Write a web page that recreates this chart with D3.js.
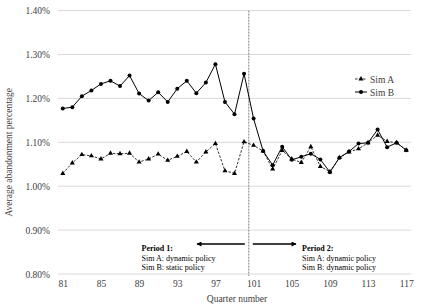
<!DOCTYPE html>
<html>
<head>
<meta charset="utf-8">
<script src="https://cdn.jsdelivr.net/npm/d3@7"></script>
<style>
  body { margin: 0; background: #fff; }
  svg { display: block; font-family: "Liberation Serif", "Times New Roman", serif; }
</style>
</head>
<body>
<div id="chart"></div>
<script>
// Data
const quarters = [81, 82, 83, 84, 85, 86, 87, 88, 89, 90, 91, 92, 93, 94, 95, 96, 97, 98, 99,
  100, 101, 102, 103, 104, 105, 106, 107, 108, 109, 110, 111, 112, 113, 114, 115, 116, 117];
const simA = [1.029, 1.053, 1.072, 1.069, 1.062, 1.075, 1.074, 1.075, 1.055, 1.062,
  1.073, 1.059, 1.068, 1.079, 1.055, 1.078, 1.097, 1.035, 1.029, 1.101,
  1.093, 1.080, 1.039, 1.081, 1.062, 1.054, 1.090, 1.045, 1.033, 1.065,
  1.078, 1.085, 1.099, 1.116, 1.102, 1.099, 1.082];
const simB = [1.177, 1.180, 1.205, 1.218, 1.233, 1.240, 1.228, 1.252, 1.211, 1.195,
  1.214, 1.192, 1.222, 1.240, 1.212, 1.236, 1.278, 1.192, 1.164, 1.256,
  1.154, 1.080, 1.048, 1.090, 1.060, 1.067, 1.074, 1.061, 1.032, 1.065,
  1.079, 1.097, 1.099, 1.129, 1.089, 1.099, 1.082];
const yTicks = [0.8, 0.9, 1.0, 1.1, 1.2, 1.3, 1.4];
const xTicks = [81, 85, 89, 93, 97, 101, 105, 109, 113, 117];
const period1 = ["Period 1:", "Sim A: dynamic policy", "Sim B: static policy"];
const period2 = ["Period 2:", "Sim A: dynamic policy", "Sim B: dynamic policy"];
const splitAfter = 100;

const width = 421, height = 306;
const plot = {left: 58, right: 411, top: 10.6, bottom: 274};

const svg = d3.select("#chart").append("svg")
  .attr("width", width)
  .attr("height", height);

const defs = svg.append("defs");
defs.append("marker")
  .attr("id", "head")
  .attr("viewBox", "0 0 10 10")
  .attr("refX", 9).attr("refY", 5)
  .attr("markerWidth", 7).attr("markerHeight", 5)
  .attr("markerUnits", "userSpaceOnUse")
  .attr("orient", "auto")
  .append("path")
  .attr("d", "M0,0 L10,5 L0,10 z")
  .attr("fill", "#000");

// Scales
const x = d3.scalePoint()
  .domain(quarters)
  .range([plot.left, plot.right])
  .padding(0.5);
const y = d3.scaleLinear()
  .domain([0.8, 1.4])
  .range([plot.bottom, plot.top]);

// Gridlines
svg.append("g")
  .selectAll("line")
  .data(yTicks)
  .join("line")
  .attr("x1", plot.left).attr("x2", plot.right)
  .attr("y1", d => y(d)).attr("y2", d => y(d))
  .attr("stroke", "#d9d9d9")
  .attr("stroke-width", 1);

// Y axis
const yAxis = svg.append("g")
  .attr("transform", `translate(${plot.left},0)`)
  .call(d3.axisLeft(y).tickValues(yTicks).tickSize(0).tickPadding(8)
    .tickFormat(d => d3.format(".2f")(d) + "%"));
yAxis.select(".domain").remove();
yAxis.selectAll("text")
  .style("font-family", "Liberation Serif")
  .style("font-size", "9.5px")
  .attr("fill", "#404040");

// X axis
const xAxis = svg.append("g")
  .attr("transform", `translate(0,${plot.bottom})`)
  .call(d3.axisBottom(x).tickValues(xTicks).tickSize(0).tickPadding(6));
xAxis.select(".domain").remove();
xAxis.selectAll("text")
  .style("font-family", "Liberation Serif")
  .style("font-size", "9.5px")
  .attr("fill", "#404040");

// Axis titles
svg.append("text")
  .attr("transform", `translate(12,${(plot.top + plot.bottom) / 2 + 10}) rotate(-90)`)
  .attr("text-anchor", "middle")
  .style("font-size", "9.5px")
  .attr("fill", "#404040")
  .text("Average abandonment percentage");

svg.append("text")
  .attr("x", 237)
  .attr("y", 302)
  .attr("text-anchor", "middle")
  .style("font-size", "9.5px")
  .attr("fill", "#404040")
  .text("Quarter number");

// Period split line
const splitX = x(splitAfter) + x.step() / 2;
svg.append("line")
  .attr("x1", splitX).attr("x2", splitX)
  .attr("y1", plot.top).attr("y2", plot.bottom + 2)
  .attr("stroke", "#7f7f7f")
  .attr("stroke-width", 1)
  .attr("stroke-dasharray", "2,1");

// Lines
const line = d3.line()
  .x((d, i) => x(quarters[i]))
  .y(d => y(d));

svg.append("path")
  .datum(simA)
  .attr("d", line)
  .attr("fill", "none")
  .attr("stroke", "#000")
  .attr("stroke-width", 0.8)
  .attr("stroke-dasharray", "2.5,1.5");

svg.append("path")
  .datum(simB)
  .attr("d", line)
  .attr("fill", "none")
  .attr("stroke", "#000")
  .attr("stroke-width", 1);

const tri = d3.symbol().type(d3.symbolTriangle).size(11);

svg.append("g")
  .selectAll("path")
  .data(simA)
  .join("path")
  .attr("d", tri)
  .attr("transform", (d, i) => `translate(${x(quarters[i])},${y(d)})`)
  .attr("fill", "#000");

svg.append("g")
  .selectAll("circle")
  .data(simB)
  .join("circle")
  .attr("cx", (d, i) => x(quarters[i]))
  .attr("cy", d => y(d))
  .attr("r", 2)
  .attr("fill", "#000");

// Legend
const legend = svg.append("g").attr("transform", "translate(355,79)");
const legendItems = [
  {name: "Sim A", dash: "2.5,1.5", mark: "tri"},
  {name: "Sim B", dash: null, mark: "dot"}
];
legendItems.forEach((item, i) => {
  const g = legend.append("g").attr("transform", `translate(0,${i * 13})`);
  g.append("line")
    .attr("x1", 0).attr("x2", 12)
    .attr("stroke", "#000")
    .attr("stroke-width", item.dash ? 0.8 : 1)
    .attr("stroke-dasharray", item.dash);
  if (item.mark === "tri") {
    g.append("path").attr("d", tri).attr("transform", "translate(6,0)").attr("fill", "#000");
  } else {
    g.append("circle").attr("cx", 6).attr("r", 2).attr("fill", "#000");
  }
  g.append("text")
    .attr("x", 15)
    .attr("y", 3.5)
    .style("font-size", "9.5px")
    .attr("fill", "#404040")
    .text(item.name);
});

// Period annotations
function note(lines, x0) {
  const t = svg.append("text")
    .attr("x", x0)
    .attr("y", 251)
    .style("font-size", "8px")
    .attr("fill", "#000");
  lines.forEach((s, i) => {
    t.append("tspan")
      .attr("x", x0)
      .attr("dy", i === 0 ? 0 : 9.5)
      .style("font-weight", i === 0 ? "bold" : null)
      .text(s);
  });
}
note(period1, 141.5);
note(period2, 302);

svg.append("line")
  .attr("x1", splitX - 4).attr("x2", 197)
  .attr("y1", 244).attr("y2", 244)
  .attr("stroke", "#000").attr("stroke-width", 1.3)
  .attr("marker-end", "url(#head)");
svg.append("line")
  .attr("x1", splitX + 4).attr("x2", 296)
  .attr("y1", 244).attr("y2", 244)
  .attr("stroke", "#000").attr("stroke-width", 1.3)
  .attr("marker-end", "url(#head)");
</script>
</body>
</html>
